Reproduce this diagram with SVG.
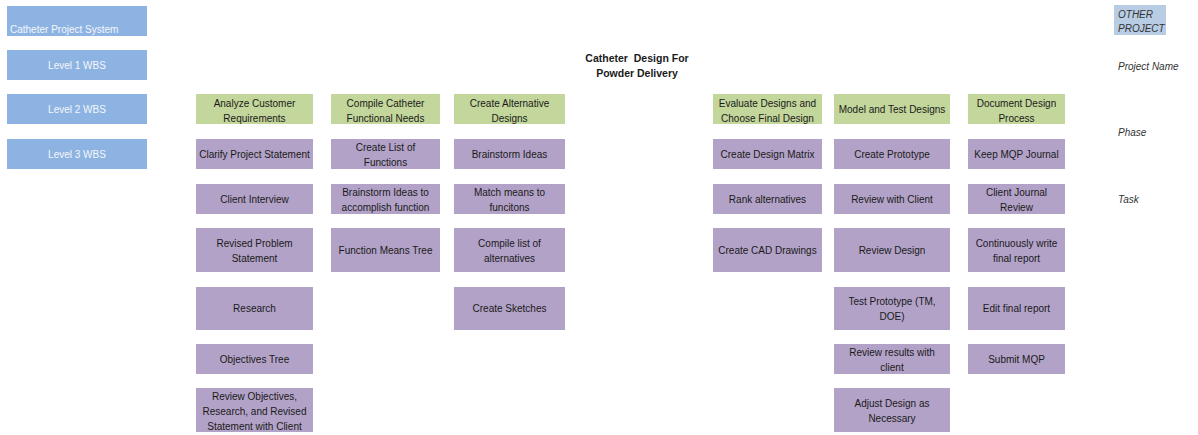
<svg xmlns="http://www.w3.org/2000/svg" width="1198" height="435" viewBox="0 0 1198 435">
<style>
text{font-family:"Liberation Sans",Arial,sans-serif;font-size:10px;fill:#1a1a1a;text-anchor:middle}
.leg rect{fill:#8db3e2}
.leg text{fill:#f4f7fb;font-size:10px}
.ph rect{fill:#c3d69b}
.tk rect{fill:#b2a2c7}
.title{font-weight:bold;font-size:10.5px;white-space:pre}
.side{font-style:italic;text-anchor:start;fill:#333}
</style>
<rect width="1198" height="435" fill="#ffffff"/>
<g id="legend">
<g id="leg-system" class="leg"><rect x="7" y="6" width="140" height="30"/><text x="10" y="33" style="text-anchor:start">Catheter Project System</text></g>
<g id="leg-l1" class="leg"><rect x="7" y="50" width="140" height="30"/><text x="77" y="68.5">Level 1 WBS</text></g>
<g id="leg-l2" class="leg"><rect x="7" y="94" width="140" height="30"/><text x="77" y="112.5">Level 2 WBS</text></g>
<g id="leg-l3" class="leg"><rect x="7" y="139" width="140" height="30"/><text x="77" y="157.5">Level 3 WBS</text></g>
</g>
<g id="title"><text class="title" x="637" y="62" xml:space="preserve">Catheter  Design For</text><text class="title" x="637" y="77">Powder Delivery</text></g>
<g id="side">
<g id="other-project"><rect x="1114" y="5" width="52" height="30" fill="#b8cce4"/><text class="side" x="1118" y="18">OTHER</text><text class="side" x="1118" y="32">PROJECT</text></g>
<text class="side" x="1118" y="69.5">Project Name</text>
<text class="side" x="1118" y="136">Phase</text>
<text class="side" x="1118" y="202.5">Task</text>
</g>
<g id="connectors"></g>
<!-- Column 1 -->
<g id="c1-h" class="ph"><rect x="196" y="94" width="117" height="30"/><text x="254.5" y="106.5">Analyze Customer</text><text x="254.5" y="121.5">Requirements</text></g>
<g id="c1-1" class="tk"><rect x="196" y="139" width="117" height="30"/><text x="254.5" y="158">Clarify Project Statement</text></g>
<g id="c1-2" class="tk"><rect x="196" y="184" width="117" height="30"/><text x="254.5" y="203">Client Interview</text></g>
<g id="c1-3" class="tk"><rect x="196" y="228" width="117" height="44"/><text x="254.5" y="246.5">Revised Problem</text><text x="254.5" y="261.5">Statement</text></g>
<g id="c1-4" class="tk"><rect x="196" y="287" width="117" height="43"/><text x="254.5" y="312">Research</text></g>
<g id="c1-5" class="tk"><rect x="196" y="344" width="117" height="30"/><text x="254.5" y="363">Objectives Tree</text></g>
<g id="c1-6" class="tk"><rect x="196" y="388" width="117" height="44"/><text x="254.5" y="399.5">Review Objectives,</text><text x="254.5" y="414.5">Research, and Revised</text><text x="254.5" y="429.5">Statement with Client</text></g>
<!-- Column 2 -->
<g id="c2-h" class="ph"><rect x="331" y="94" width="109" height="30"/><text x="385.5" y="106.5">Compile Catheter</text><text x="385.5" y="121.5">Functional Needs</text></g>
<g id="c2-1" class="tk"><rect x="331" y="139" width="109" height="30"/><text x="385.5" y="151">Create List of</text><text x="385.5" y="166">Functions</text></g>
<g id="c2-2" class="tk"><rect x="331" y="184" width="109" height="30"/><text x="385.5" y="196">Brainstorm Ideas to</text><text x="385.5" y="211">accomplish function</text></g>
<g id="c2-3" class="tk"><rect x="331" y="228" width="109" height="44"/><text x="385.5" y="254">Function Means Tree</text></g>
<!-- Column 3 -->
<g id="c3-h" class="ph"><rect x="454" y="94" width="111" height="30"/><text x="509.5" y="106.5">Create Alternative</text><text x="509.5" y="121.5">Designs</text></g>
<g id="c3-1" class="tk"><rect x="454" y="139" width="111" height="30"/><text x="509.5" y="158">Brainstorm Ideas</text></g>
<g id="c3-2" class="tk"><rect x="454" y="184" width="111" height="30"/><text x="509.5" y="196">Match means to</text><text x="509.5" y="211">funcitons</text></g>
<g id="c3-3" class="tk"><rect x="454" y="228" width="111" height="44"/><text x="509.5" y="246.5">Compile list of</text><text x="509.5" y="261.5">alternatives</text></g>
<g id="c3-4" class="tk"><rect x="454" y="287" width="111" height="43"/><text x="509.5" y="312">Create Sketches</text></g>
<!-- Column 4 -->
<g id="c4-h" class="ph"><rect x="713" y="94" width="109" height="30"/><text x="767.5" y="106.5">Evaluate Designs and</text><text x="767.5" y="121.5">Choose Final Design</text></g>
<g id="c4-1" class="tk"><rect x="713" y="139" width="109" height="30"/><text x="767.5" y="158">Create Design Matrix</text></g>
<g id="c4-2" class="tk"><rect x="713" y="184" width="109" height="30"/><text x="767.5" y="203">Rank alternatives</text></g>
<g id="c4-3" class="tk"><rect x="713" y="228" width="109" height="44"/><text x="767.5" y="254">Create CAD Drawings</text></g>
<!-- Column 5 -->
<g id="c5-h" class="ph"><rect x="834" y="94" width="116" height="30"/><text x="892" y="113">Model and Test Designs</text></g>
<g id="c5-1" class="tk"><rect x="834" y="139" width="116" height="30"/><text x="892" y="158">Create Prototype</text></g>
<g id="c5-2" class="tk"><rect x="834" y="184" width="116" height="30"/><text x="892" y="203">Review with Client</text></g>
<g id="c5-3" class="tk"><rect x="834" y="228" width="116" height="44"/><text x="892" y="254">Review Design</text></g>
<g id="c5-4" class="tk"><rect x="834" y="287" width="116" height="43"/><text x="892" y="305">Test Prototype (TM,</text><text x="892" y="320">DOE)</text></g>
<g id="c5-5" class="tk"><rect x="834" y="344" width="116" height="30"/><text x="892" y="356">Review results with</text><text x="892" y="371">client</text></g>
<g id="c5-6" class="tk"><rect x="834" y="388" width="116" height="44"/><text x="892" y="406.5">Adjust Design as</text><text x="892" y="421.5">Necessary</text></g>
<!-- Column 6 -->
<g id="c6-h" class="ph"><rect x="968" y="94" width="97" height="30"/><text x="1016.5" y="106.5">Document Design</text><text x="1016.5" y="121.5">Process</text></g>
<g id="c6-1" class="tk"><rect x="968" y="139" width="97" height="30"/><text x="1016.5" y="158">Keep MQP Journal</text></g>
<g id="c6-2" class="tk"><rect x="968" y="184" width="97" height="30"/><text x="1016.5" y="196">Client Journal</text><text x="1016.5" y="211">Review</text></g>
<g id="c6-3" class="tk"><rect x="968" y="228" width="97" height="44"/><text x="1016.5" y="246.5">Continuously write</text><text x="1016.5" y="261.5">final report</text></g>
<g id="c6-4" class="tk"><rect x="968" y="287" width="97" height="43"/><text x="1016.5" y="312">Edit final report</text></g>
<g id="c6-5" class="tk"><rect x="968" y="344" width="97" height="30"/><text x="1016.5" y="363">Submit MQP</text></g>
</svg>
